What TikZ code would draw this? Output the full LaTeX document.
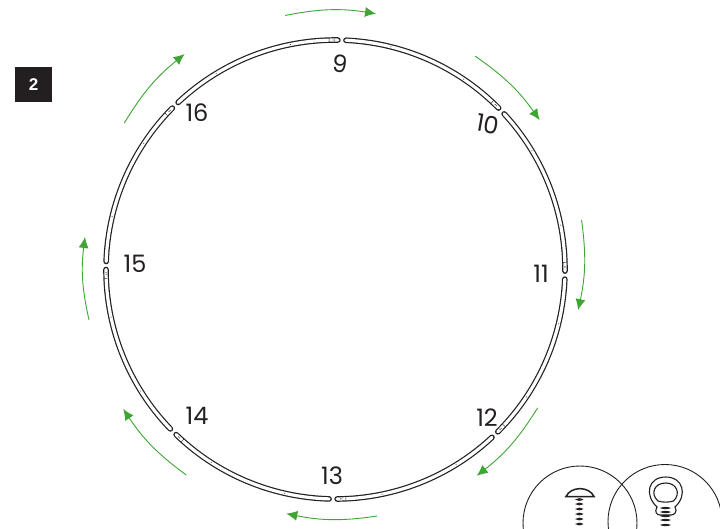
\documentclass[tikz,border=0pt]{standalone}
\usepackage{fontspec}
\setmainfont{Liberation Sans}
\newfontfamily\hoopfont{Poppins}
\usetikzlibrary{arrows.meta}
\definecolor{inkblack}{HTML}{231F20}
\definecolor{turngreen}{HTML}{3FA535}
\tikzset{
  hoopseg/.style={draw=inkblack, line width=1.2pt, double=white, double distance=3.2pt, line cap=round},
  hoopmark/.style={draw=inkblack, line width=0.4pt},
  turnarrow/.style={draw=turngreen, line width=0.9pt, -{Latex[length=11pt,width=10pt]}},
  hooplabel/.style={font=\hoopfont\fontsize{24}{24}\selectfont, text=inkblack, inner sep=0pt},
  stepbadge/.style={fill=inkblack, text=white, font=\bfseries\fontsize{17}{17}\selectfont, minimum width=37pt, minimum height=35pt, inner sep=0pt},
  detailcircle/.style={draw=inkblack, line width=0.9pt, circle, minimum size=114pt, inner sep=0pt},
  threadpart/.style={fill=inkblack, draw=none},
  partline/.style={draw=inkblack, line width=1.1pt, fill=white}
}
\begin{document}
\begin{tikzpicture}[x=1pt, y=1pt]
  \clip (0,0) rectangle (720,-528);
  \fill[white] (0,0) rectangle (720,-528);
  \node[stepbadge] (badge) at (33.5,-84.5) {2};
  \begin{scope}[shift={(335.5,-269.5)}]
    % hoop pieces, clockwise
    \foreach \ang/\nxt in {87.4/44.7, 42.7/-0.4, -2.4/-45, -47/-89.6, -91.6/-134, -136/-180, -182/-224.7, -226.7/-270.6}{
      \draw[hoopseg] (\ang:229.5) arc[start angle=\ang, end angle=\nxt, radius=229.5];
      \draw[hoopmark] (\nxt+2.2:227.6) -- (\nxt+2.2:231.4);
      \fill[inkblack] (\nxt+1.2:229.5) circle (0.55);
      \fill[inkblack] (\nxt+0.8:229.5) circle (0.55);
      \fill[inkblack] (\ang/2+\nxt/2+10:229.5) circle (0.5);
      \fill[inkblack] (\ang/2+\nxt/2-10:229.5) circle (0.5);
    }
    % turn direction
    \coordinate (t1a) at (101.2:259); \coordinate (t1b) at (81:259);
    \coordinate (t2a) at (56.8:255); \coordinate (t2b) at (36.2:253);
    \coordinate (t3a) at (11.4:251); \coordinate (t3b) at (-9.5:246);
    \coordinate (t4a) at (-34.4:245); \coordinate (t4b) at (-55.6:250);
    \coordinate (t5a) at (-80.4:250); \coordinate (t5b) at (-101.4:249);
    \coordinate (t6a) at (-126:254); \coordinate (t6b) at (-146.7:254);
    \coordinate (t7a) at (191.6:251.6); \coordinate (t7b) at (172.6:252.6);
    \coordinate (t8a) at (145.3:257); \coordinate (t8b) at (125:263);
    \foreach \i in {1,...,8}{
      \draw[turnarrow] (t\i a) to[bend left=10] (t\i b);
    }
  \end{scope}
  \node[hooplabel, rotate=-8] (lab9) at (340,-64) {9};
  \node[hooplabel, rotate=-10] (lab10) at (488,-124) {10};
  \node[hooplabel] (lab11) at (541,-274) {11};
  \node[hooplabel] (lab12) at (487,-418) {12};
  \node[hooplabel] (lab13) at (332,-476) {13};
  \node[hooplabel] (lab14) at (197,-416) {14};
  \node[hooplabel] (lab15) at (135,-264) {15};
  \node[hooplabel] (lab16) at (197,-113) {16};
  \node[detailcircle] (screwcircle) at (580,-523) {};
  \node[detailcircle] (eyecircle) at (665,-521.5) {};
  % screw
  \draw[partline, line width=1.5pt] (566,-496.5) .. controls (571,-486) and (589,-486) .. (594,-496.5) -- cycle;
  \foreach \ypos in {499.5,504,509,514,519,524}{
    \fill[threadpart] (575,-\ypos) .. controls (578,-\ypos+1.8) and (580,-\ypos+1.8) .. (583.5,-\ypos) .. controls (580,-\ypos-1.8) and (578,-\ypos-1.8) .. (575,-\ypos);
  }
  % eye bolt
  \draw[partline] (657,-507) .. controls (644,-495) and (648,-477) .. (665.7,-477) .. controls (683,-477) and (688,-495) .. (675,-507) .. controls (678,-512) and (674,-515) .. (671,-515) -- (660,-515) .. controls (657,-515) and (654,-512) .. (657,-507) -- cycle;
  \draw[partline] (658,-501) .. controls (650,-494) and (654,-483) .. (665.7,-483) .. controls (677,-483) and (681,-494) .. (673.5,-501) .. controls (669,-502.5) and (662,-502.5) .. (658,-501) -- cycle;
  \foreach \ypos in {508,512,516,520,525}{
    \fill[threadpart] (660,-\ypos) .. controls (663,-\ypos+1.5) and (668,-\ypos+1.5) .. (671,-\ypos) .. controls (668,-\ypos-1.5) and (663,-\ypos-1.5) .. (660,-\ypos);
  }
\end{tikzpicture}
\end{document}
